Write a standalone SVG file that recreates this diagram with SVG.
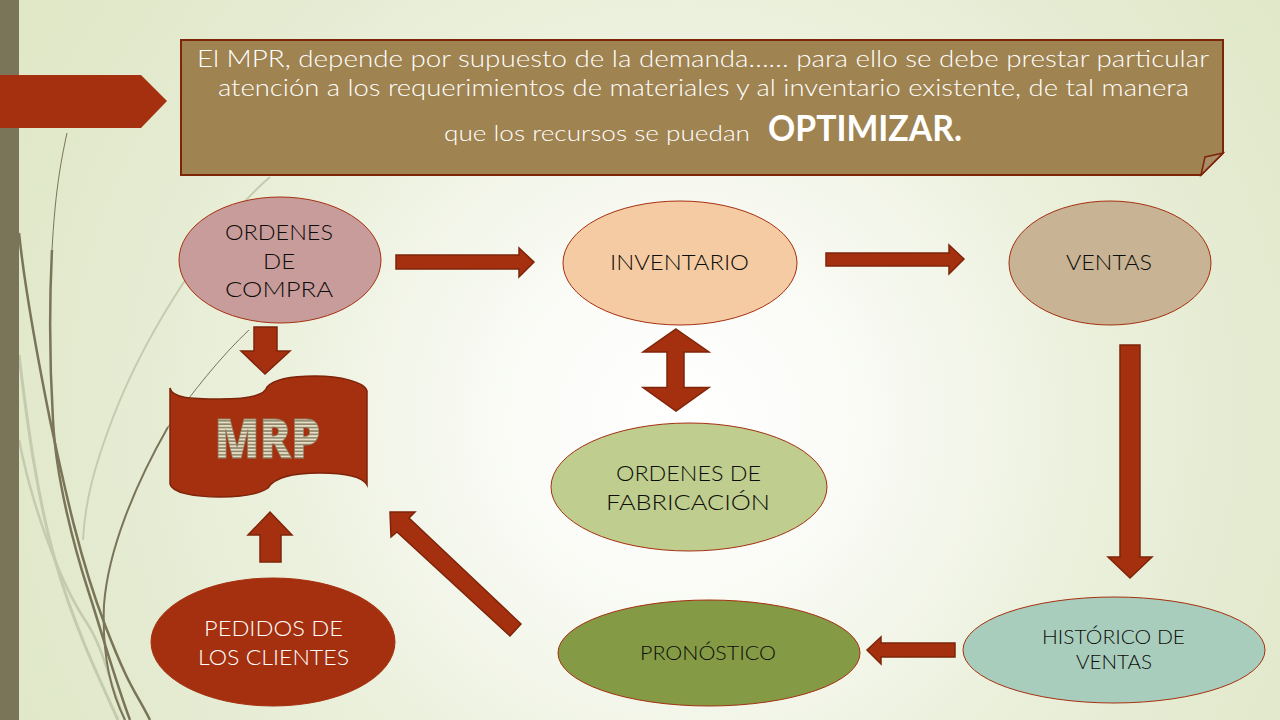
<svg xmlns="http://www.w3.org/2000/svg" width="1280" height="720" viewBox="0 0 1280 720">
<style>
.t{font-family:"Lato","Liberation Sans",sans-serif;text-anchor:middle;font-weight:300}
.w{fill:#ffffff}.k{fill:#0c0c08}
.a{fill:#a5300f;stroke:#7e2409;stroke-width:1.5}
.n{stroke:#a5300f;stroke-width:1}
.s{fill:none;stroke:#7a7458}
.l{fill:none;stroke:#c5cbae}
</style>
<defs>
<radialGradient id="bg" gradientUnits="userSpaceOnUse" cx="680" cy="420" r="760">
<stop offset="0" stop-color="#ffffff"/><stop offset=".2" stop-color="#fbfcf8"/><stop offset=".55" stop-color="#ebf0dc"/><stop offset=".85" stop-color="#e2e9cc"/><stop offset="1" stop-color="#e0e8c8"/>
</radialGradient>
<pattern id="st" width="4" height="3.4" patternUnits="userSpaceOnUse">
<rect width="4" height="3.4" fill="#8f8467"/><rect width="4" height="1.8" fill="#e6dfc8"/>
</pattern>
</defs>
<rect width="1280" height="720" fill="url(#bg)"/>
<g id="decor">
<path class="l" stroke-width="3" d="M19 355C28 430 38 500 55 560S95 670 118 720"/>
<path class="l" stroke-width="2.5" d="M19 440C35 520 65 590 85 620S108 680 125 720"/>
<path class="l" stroke-width="2" d="M270 177C225 215 150 320 112 420C95 465 85 500 83 540"/>
<path class="s" stroke-width="1" d="M67 133C60 165 55 195 52 250"/>
<path class="s" stroke-width="2.500" d="M52 250C49 310 50 370 53 420C56 480 75 550 88 590S115 680 130 720"/>
<path class="s" stroke-width="2.500" d="M19 233C25 290 40 370 50 420C65 490 80 560 105 625S135 690 150 720"/>
<path class="s" stroke-width="2" d="M168 427C135 485 108 550 104 605C102 650 110 690 125 720"/>
<path class="s" stroke-width="1" d="M249 330C222 355 190 395 168 427"/>
<rect x="0" y="0" width="19" height="720" fill="#7a7458"/>
<path d="M0 75H141L167 101L141 128H0Z" fill="#a5300f"/>
</g>
<g id="note">
<path d="M181 40H1223V153L1201 175H181Z" fill="#9f8351" stroke="#7e2409" stroke-width="2"/>
<path d="M1201 175L1205 157L1223 153Z" fill="#a98c68" stroke="#7e2409" stroke-width="1.500"/>
<text class="t w" x="703" y="67" font-size="23" textLength="1012" lengthAdjust="spacingAndGlyphs">El MPR, depende por supuesto de la demanda…… para ello se debe prestar particular</text>
<text class="t w" x="703.500" y="96" font-size="23" textLength="971" lengthAdjust="spacingAndGlyphs">atención a los requerimientos de materiales y al inventario existente, de tal manera</text>
<text class="t w" x="597" y="141" font-size="22" textLength="306" lengthAdjust="spacingAndGlyphs">que los recursos se puedan</text>
<text class="t w" x="865" y="141" font-size="36" style="font-weight:700" textLength="194" lengthAdjust="spacingAndGlyphs">OPTIMIZAR.</text>
</g>
<g id="connectors">
<path class="a" d="M396 255H519V248L534 262L519 277V269H396Z"/>
<path class="a" d="M826 253H949V245L964 259L949 274V266H826Z"/>
<path class="a" d="M254 327H277V351H290L265 374L241 351H254Z"/>
<path class="a" d="M676 329L709 352H684V387.500H709L676 411L643 387.500H667V352H643Z"/>
<path class="a" d="M1120 345H1140V557H1152L1130 578L1108 557H1120Z"/>
<path class="a" d="M955 643V657H881V664L867 650L881 637V643Z"/>
<path class="a" d="M260 562V535H248L270 512L292 535H281V562Z"/>
<path class="a" d="M521 624L510 636L397 532L391 537L390 512L415 512L409 518Z"/>
</g>
<g id="ordenes-compra">
<ellipse class="n" cx="280" cy="260" rx="101" ry="63" fill="#c99c9c"/>
<text class="t k" font-size="22" lengthAdjust="spacingAndGlyphs" x="279" y="240" textLength="108">ORDENES</text>
<text class="t k" font-size="22" lengthAdjust="spacingAndGlyphs" x="279" y="269" textLength="32">DE</text>
<text class="t k" font-size="22" lengthAdjust="spacingAndGlyphs" x="279" y="297" textLength="108">COMPRA</text>
</g>
<g id="inventario">
<ellipse class="n" cx="680" cy="263" rx="117" ry="62" fill="#f5cba3"/>
<text class="t k" x="679.500" y="270" font-size="22" textLength="139" lengthAdjust="spacingAndGlyphs">INVENTARIO</text>
</g>
<g id="ventas">
<ellipse class="n" cx="1110" cy="263" rx="101" ry="62" fill="#c8b394"/>
<text class="t k" x="1109" y="270" font-size="22" textLength="86" lengthAdjust="spacingAndGlyphs">VENTAS</text>
</g>
<g id="mrp">
<path class="a" d="M170 388C172 398 190 399 220 399C245 399 265 396 267 387C275 378 295 376 315 376C340 376 365 382 367 391V485C362 476 345 473 320 473C295 473 275 476 268 488C258 495 240 497 220 497C195 497 172 493 170 484Z"/>
<text x="267.500" y="458" font-family="'Open Sans','Liberation Sans',sans-serif" font-weight="800" font-size="55" text-anchor="middle" fill="url(#st)" stroke="#8f8467" stroke-width=".8" textLength="106" lengthAdjust="spacingAndGlyphs">MRP</text>
</g>
<g id="ordenes-fabricacion">
<ellipse class="n" cx="689" cy="487" rx="138" ry="64" fill="#bfcd8f"/>
<text class="t k" font-size="22" x="688.500" y="481" textLength="145" lengthAdjust="spacingAndGlyphs">ORDENES DE</text>
<text class="t k" font-size="22" x="688" y="510" textLength="164" lengthAdjust="spacingAndGlyphs">FABRICACIÓN</text>
</g>
<g id="pedidos">
<ellipse class="n" cx="273" cy="642" rx="122" ry="64" fill="#a5300f"/>
<text class="t w" font-size="22" x="273.500" y="636" textLength="139" lengthAdjust="spacingAndGlyphs">PEDIDOS DE</text>
<text class="t w" font-size="22" x="273.500" y="665" textLength="151" lengthAdjust="spacingAndGlyphs">LOS CLIENTES</text>
</g>
<g id="pronostico">
<ellipse class="n" cx="709" cy="653" rx="151" ry="53" fill="#849a45"/>
<text class="t k" x="708" y="660" font-size="19" textLength="136" lengthAdjust="spacingAndGlyphs">PRONÓSTICO</text>
</g>
<g id="historico">
<ellipse class="n" cx="1114" cy="650" rx="151" ry="53" fill="#a8cdbd"/>
<text class="t k" font-size="19" x="1113.500" y="644" textLength="143" lengthAdjust="spacingAndGlyphs">HISTÓRICO DE</text>
<text class="t k" font-size="19" x="1114" y="669" textLength="76" lengthAdjust="spacingAndGlyphs">VENTAS</text>
</g>
</svg>
